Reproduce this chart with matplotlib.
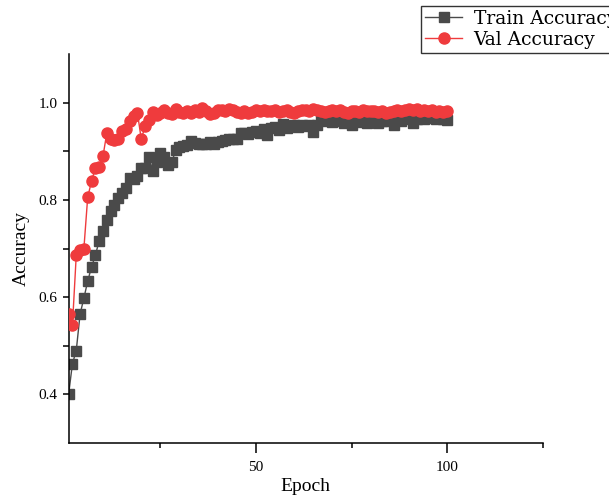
import matplotlib
matplotlib.use("Agg")
import matplotlib.pyplot as plt
from matplotlib.ticker import FixedLocator

plt.rcParams['font.family'] = ['Liberation Serif', 'DejaVu Serif']

epochs = list(range(1, 101))

train_acc = [
    0.400, 0.463, 0.490, 0.565, 0.598, 0.633, 0.662, 0.686, 0.716, 0.736,
    0.758, 0.778, 0.790, 0.803, 0.815, 0.825, 0.845, 0.842, 0.850, 0.866,
    0.866, 0.888, 0.860, 0.878, 0.896, 0.888, 0.871, 0.878, 0.902, 0.908,
    0.910, 0.912, 0.921, 0.916, 0.914, 0.914, 0.915, 0.920, 0.914, 0.918,
    0.922, 0.924, 0.926, 0.925, 0.926, 0.938, 0.938, 0.936, 0.940, 0.942,
    0.938, 0.945, 0.933, 0.948, 0.950, 0.944, 0.957, 0.948, 0.952, 0.955,
    0.950, 0.954, 0.952, 0.955, 0.940, 0.955, 0.965, 0.962, 0.964, 0.960,
    0.962, 0.964, 0.958, 0.960, 0.955, 0.962, 0.960, 0.965, 0.958, 0.960,
    0.962, 0.958, 0.963, 0.962, 0.965, 0.955, 0.964, 0.962, 0.966, 0.968,
    0.958, 0.967, 0.968, 0.966, 0.970, 0.968, 0.966, 0.968, 0.967, 0.964,
]

val_acc = [
    0.566, 0.542, 0.686, 0.697, 0.700, 0.806, 0.838, 0.866, 0.867, 0.890,
    0.938, 0.925, 0.924, 0.925, 0.941, 0.946, 0.962, 0.972, 0.979, 0.925,
    0.951, 0.965, 0.980, 0.975, 0.979, 0.984, 0.978, 0.976, 0.986, 0.980,
    0.978, 0.982, 0.979, 0.984, 0.980, 0.988, 0.982, 0.976, 0.978, 0.984,
    0.985, 0.982, 0.986, 0.985, 0.980, 0.979, 0.982, 0.978, 0.981, 0.984,
    0.982, 0.985, 0.983, 0.982, 0.984, 0.980, 0.983, 0.985, 0.981, 0.978,
    0.982, 0.984, 0.985, 0.983, 0.986, 0.984, 0.982, 0.980, 0.983, 0.985,
    0.982, 0.984, 0.980, 0.979, 0.982, 0.983, 0.981, 0.984, 0.982, 0.983,
    0.983, 0.980, 0.982, 0.978, 0.981, 0.983, 0.984, 0.982, 0.985, 0.986,
    0.984, 0.986, 0.983, 0.985, 0.982, 0.984, 0.981, 0.983, 0.980, 0.982,
]

series_labels = ['Train Accuracy', 'Val Accuracy']
x_tick_labels = ['50', '100']
y_tick_values = [0.4, 0.6, 0.8, 1.0]

fig = plt.figure(figsize=(6.09, 5.01), dpi=100)
ax = fig.add_axes([68.6 / 609, 58 / 501, (542.7 - 68.6) / 609, (447 - 58) / 501])

gray = '#4a4a4a'
red = '#ef3b3d'
ax.plot(epochs, train_acc, color=gray, lw=1.0, marker='s', ms=7.2,
        mfc=gray, mec=gray, label=series_labels[0], zorder=2)
ax.plot(epochs, val_acc, color=red, lw=1.0, marker='o', ms=8.0,
        mfc=red, mec=red, label=series_labels[1], zorder=3)

ax.set_xlim(1, 125)
ax.set_ylim(0.3, 1.1)

ax.xaxis.set_major_locator(FixedLocator([50, 100]))
ax.set_xticklabels(x_tick_labels)
ax.xaxis.set_minor_locator(FixedLocator([25, 75, 125]))
ax.yaxis.set_major_locator(FixedLocator(y_tick_values))
ax.set_yticklabels([f'{v:.1f}' for v in y_tick_values])
ax.yaxis.set_minor_locator(FixedLocator([0.5, 0.7, 0.9]))

ax.tick_params(axis='x', which='major', direction='out', length=7, width=1.1, labelsize=11, pad=6)
ax.tick_params(axis='x', which='minor', direction='out', length=3.5, width=1.1)
ax.tick_params(axis='y', which='both', direction='out', length=4, width=1.1, labelsize=11, pad=4)

for s in ['top', 'right']:
    ax.spines[s].set_visible(False)
for s in ['left', 'bottom']:
    ax.spines[s].set_linewidth(1.1)

ax.set_xlabel('Epoch', fontsize=14, labelpad=3)
ax.set_ylabel('Accuracy', fontsize=14, labelpad=6)

leg = fig.legend(loc='upper left', bbox_to_anchor=(421 / 609, 1 - 6 / 501),
                 bbox_transform=fig.transFigure, borderaxespad=0,
                 prop={'family': 'DejaVu Serif', 'size': 13.5},
                 frameon=True, fancybox=False, framealpha=1,
                 edgecolor='#333333', handlelength=2.0, handletextpad=0.6,
                 borderpad=0.2, labelspacing=0.17)
leg.get_frame().set_linewidth(1.0)

fig.savefig('out.png', dpi=100)
